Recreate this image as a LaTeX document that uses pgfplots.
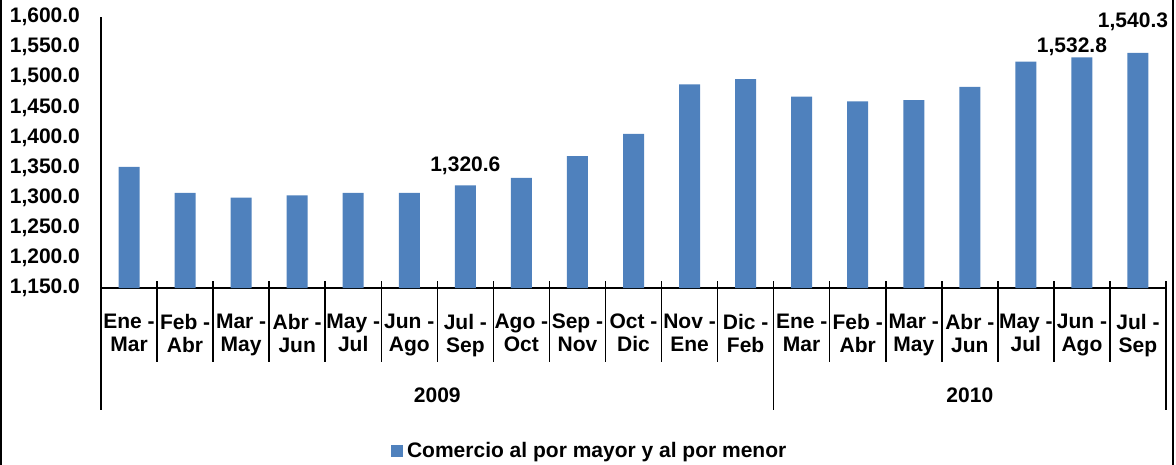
\documentclass[border=0pt]{standalone}
\usepackage{fontspec}
\setmainfont{Liberation Sans}
\usepackage{pgfplots}
\usepackage{pgfplotstable}
\pgfplotsset{compat=1.18}
\definecolor{barblue}{HTML}{4F81BD}
\newcommand{\lbl}{\bfseries\fontsize{10.5}{11.5}\selectfont}

% Comercio al por mayor y al por menor, trimestres moviles
\pgfplotstableread{
x val
0 1351
1 1308
2 1300
3 1304
4 1308
5 1308
6 1320.6
7 1333
8 1369
9 1406
10 1488
11 1497
12 1468
13 1460
14 1462
15 1484
16 1526
17 1532.8
18 1540.3
}\comercio

\begin{document}
\begin{tikzpicture}
\useasboundingbox (0,0) rectangle (588pt,-232.5pt);
\draw[line width=0.8pt] (0.4pt,0) -- (0.4pt,-232.5pt);
\draw[line width=0.8pt] (586.5pt,0) -- (586.5pt,-232.5pt);
\begin{axis}[
    at={(50.5pt,-144pt)}, anchor=south west,
    scale only axis,
    width=532.5pt, height=135.5pt,
    xmin=-0.5, xmax=18.5,
    ymin=1150, ymax=1600,
    axis lines*=left,
    axis line style={black, line width=0.75pt},
    major tick length=0pt,
    ytick={1150,1200,...,1600},
    scaled y ticks=false,
    /pgf/number format/fixed,
    /pgf/number format/fixed zerofill,
    /pgf/number format/precision=1,
    /pgf/number format/1000 sep={,},
    /pgf/number format/assume math mode=true,
    yticklabel style={font=\lbl, xshift=-7pt},
    xtick={0,...,18},
    xticklabels={{Ene -\\Mar},{Feb -\\Abr},{Mar -\\May},{Abr -\\Jun},{May -\\Jul},
        {Jun -\\Ago},{Jul -\\Sep},{Ago -\\Oct},{Sep -\\Nov},{Oct -\\Dic},{Nov -\\Ene},
        {Dic -\\Feb},{Ene -\\Mar},{Feb -\\Abr},{Mar -\\May},{Abr -\\Jun},{May -\\Jul},
        {Jun -\\Ago},{Jul -\\Sep}},
    xticklabel style={align=center, font=\lbl, yshift=-9.5pt},
    ybar, bar width=10.5pt,
    clip mode=individual,
    legend style={at={(axis description cs:0.46,-0.6015)}, anchor=center,
        draw=none, fill=none, font=\lbl},
]
\addplot[fill=barblue, draw=none,
    legend image code/.code={\fill[barblue] (0pt,-2.9pt) rectangle (5.8pt,2.9pt);}]
    table[x=x, y=val] {\comercio};
\addlegendentry{Comercio al por mayor y al por menor}

% separadores del eje de categorias
\pgfplotsinvokeforeach{0.5,1.5,2.5,3.5,4.5,5.5,6.5,7.5,8.5,9.5,10.5,12.5,13.5,14.5,15.5,16.5,17.5}{
    \draw[black, line width=0.75pt] ([yshift=3.5pt]axis cs:#1,1150) -- ([yshift=-37pt]axis cs:#1,1150);
}
\pgfplotsinvokeforeach{11.5,18.5}{
    \draw[black, line width=0.75pt] ([yshift=3.5pt]axis cs:#1,1150) -- ([yshift=-61pt]axis cs:#1,1150);
}
\draw[black, line width=0.75pt] (axis cs:-0.5,1150) -- ([yshift=-61pt]axis cs:-0.5,1150);

\node[font=\lbl] at (axis cs:5.5,1150) [yshift=-53.5pt] {2009};
\node[font=\lbl] at (axis cs:15,1150) [yshift=-53.5pt] {2010};

\node[font=\lbl] at (axis cs:6,1320.6) [yshift=9.5pt] {1,320.6};
\node[font=\lbl] at (axis cs:17,1532.8) [xshift=-5pt, yshift=5.5pt] {1,532.8};
\node[font=\lbl] at (axis cs:18,1540.3) [xshift=-2.5pt, yshift=15.5pt] {1,540.3};
\end{axis}
\end{tikzpicture}
\end{document}
